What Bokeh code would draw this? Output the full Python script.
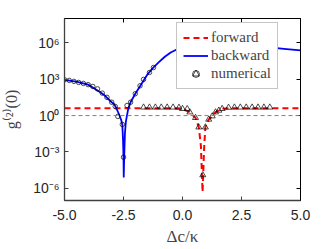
from bokeh.plotting import figure
from bokeh.models import (Range1d, FixedTicker, LinearAxis, LogAxis, Legend, LegendItem,
                          Span, CustomJSTickFormatter, NumeralTickFormatter)
from bokeh.embed import file_html
from bokeh.resources import INLINE

# ---- data (log10 of g2(0)) ----
fwd_x = [-5.0, -3.0, -1.0, -0.5, -0.2, 0.0, 0.3, 0.55, 0.69, 0.78, 0.85, 0.92, 0.97, 1.11, 1.26, 1.4, 1.54, 1.68, 2.0, 3.0, 5.0]
fwd_log = [0.6, 0.6, 0.6, 0.6, 0.6, 0.56, 0.28, -0.18, -0.96, -2.5, -6.3, -2.5, -0.96, -0.32, -0.05, 0.28, 0.42, 0.56, 0.6, 0.6, 0.6]

bwd_x = [-5.0, -4.5, -4.0, -3.5, -3.35, -3.0, -2.9, -2.8, -2.7, -2.6, -2.55, -2.52, -2.5, -2.49,
         -2.47, -2.44, -2.4, -2.3, -2.2, -2.0, -1.78, -1.5, -1.25, -1.0, -0.75, -0.5, -0.25,
         0.0, 0.5, 1.0, 2.0, 3.0, 4.0, 4.3, 5.0]
bwd_log = [2.95, 2.8, 2.55, 1.95, 1.74, 1.1, 0.95, 0.6, 0.15, -0.35, -0.75, -2.0, -3.4, -5.1,
           -3.4, -1.5, -0.5, 0.55, 1.1, 1.8, 2.48, 3.35, 3.93, 4.4, 4.85, 5.2, 5.45,
           5.62, 5.85, 5.95, 5.85, 5.7, 5.55, 5.5, 5.37]

tri_x = [-1.65, -1.4, -1.15, -0.9, -0.65, -0.4, -0.15, 0.0, 0.2, 0.31, 0.55, 0.69, 0.86, 0.97,
         1.11, 1.26, 1.4, 1.54, 1.68, 1.95, 2.2, 2.45, 2.7, 2.95, 3.2, 3.45, 3.7]
tri_log = [0.68, 0.68, 0.68, 0.68, 0.68, 0.68, 0.66, 0.56, 0.55, 0.28, -0.18, -0.96, -4.9, -0.96,
           -0.32, -0.05, 0.28, 0.42, 0.56, 0.66, 0.68, 0.68, 0.68, 0.68, 0.68, 0.68, 0.68]

circ_x = [-5.0, -4.8, -4.6, -4.4, -4.2, -4.0, -3.8, -3.6, -3.4, -3.2, -3.0, -2.85, -2.74,
          -2.55, -2.5, -2.35, -2.2, -2.0, -1.8, -1.65, -1.4, -1.23]
circ_log = [2.95, 2.9, 2.82, 2.73, 2.65, 2.55, 2.4, 2.2, 1.85, 1.5, 1.1, 0.75, -0.07,
            -0.73, -3.43, 0.83, 1.1, 1.8, 2.45, 2.98, 3.55, 3.96]

x_ticks = [-5.0, -2.5, 0.0, 2.5, 5.0]
y_ticks = [1e-6, 1e-3, 1e0, 1e3, 1e6]

fwd_y = [10 ** v for v in fwd_log]
bwd_y = [10 ** v for v in bwd_log]
tri_y = [10 ** v for v in tri_log]
circ_y = [10 ** v for v in circ_log]

p = figure(width=332, height=249, y_axis_type="log",
           x_range=Range1d(-5, 5), y_range=Range1d(1e-7, 1e8),
           output_backend="svg", toolbar_location=None,
           min_border_left=64, min_border_right=32, min_border_top=18, min_border_bottom=49)
p.xgrid.visible = False
p.ygrid.visible = False
p.outline_line_color = "black"
p.outline_line_width = 1
p.background_fill_color = "white"
p.border_fill_color = "white"

sup = CustomJSTickFormatter(code="""
const s = {'0':'\u2070','1':'\u00b9','2':'\u00b2','3':'\u00b3','4':'\u2074','5':'\u2075',
           '6':'\u2076','7':'\u2077','8':'\u2078','9':'\u2079','-':'\u207b'};
const e = Math.round(Math.log10(tick)).toString();
return '10' + e.split('').map(c => s[c]).join('');
""")
blank = CustomJSTickFormatter(code="return '';")

tick_font = "Liberation Sans"
for ax in p.xaxis:
    ax.ticker = FixedTicker(ticks=x_ticks)
    ax.formatter = NumeralTickFormatter(format="0.0")
for ax in p.yaxis:
    ax.ticker = FixedTicker(ticks=y_ticks)
    ax.formatter = sup
for ax in list(p.xaxis) + list(p.yaxis):
    ax.major_tick_in = 4
    ax.major_tick_out = 0
    ax.minor_tick_in = 0
    ax.minor_tick_out = 0
    ax.axis_line_color = "#404040"
    ax.axis_line_width = 1.3
    ax.major_tick_line_color = "#404040"
    ax.major_label_text_font = tick_font
    ax.major_label_text_font_size = "14px"
    ax.major_label_text_color = "#262626"
    ax.major_label_text_line_height = 1.0
    ax.axis_label_text_line_height = 1.0
p.xaxis.major_label_standoff = 9
p.yaxis.major_label_standoff = 5

p.yaxis.axis_label = "g\u207d\u00b2\u207e(0)"
p.yaxis.axis_label_text_font = "Liberation Serif"
p.yaxis.axis_label_text_font_style = "normal"
p.yaxis.axis_label_text_font_size = "16px"
p.yaxis.axis_label_standoff = 10

p.xaxis.axis_label = "\u0394c/\u03ba"
p.xaxis.axis_label_text_font = "Liberation Serif"
p.xaxis.axis_label_text_font_style = "normal"
p.xaxis.axis_label_text_font_size = "17px"
p.xaxis.axis_label_standoff = 4

top = LinearAxis(ticker=FixedTicker(ticks=x_ticks), formatter=blank,
                 major_label_standoff=0, major_tick_in=4, major_tick_out=0,
                 minor_tick_in=0, minor_tick_out=0, axis_line_color="black")
p.add_layout(top, "above")
right = LogAxis(ticker=FixedTicker(ticks=y_ticks), formatter=blank,
                major_label_standoff=0, major_tick_in=4, major_tick_out=0,
                minor_tick_in=0, minor_tick_out=0, axis_line_color="black")
p.add_layout(right, "right")

p.add_layout(Span(location=1.0, dimension="width", line_color="#808080",
                  line_width=1, line_dash="4 3"))

r_fwd = p.line(fwd_x, fwd_y, line_color="#FF0000", line_width=2, line_dash="6 4")
r_bwd = p.line(bwd_x, bwd_y, line_color="#0000FF", line_width=1.8)
r_tri = p.scatter(tri_x, tri_y, marker="triangle", size=6, fill_color=None,
                  line_color="black", line_width=0.7)
r_circ = p.scatter(circ_x, circ_y, marker="circle", size=4.5, fill_color=None,
                   line_color="black", line_width=0.7)

legend = Legend(items=[LegendItem(label="forward", renderers=[r_fwd]),
                       LegendItem(label="backward", renderers=[r_bwd]),
                       LegendItem(label="numerical", renderers=[r_tri, r_circ])],
                location=(112, 111), orientation="vertical",
                label_text_font="Liberation Serif", label_text_font_size="15px",
                label_height=17, glyph_height=17, glyph_width=25, label_standoff=3,
                spacing=1, padding=6, margin=0,
                border_line_color="#8c8c8c", border_line_width=1,
                background_fill_color="white", background_fill_alpha=1)
p.add_layout(legend)

open("out.html", "w").write(file_html(p, INLINE))
